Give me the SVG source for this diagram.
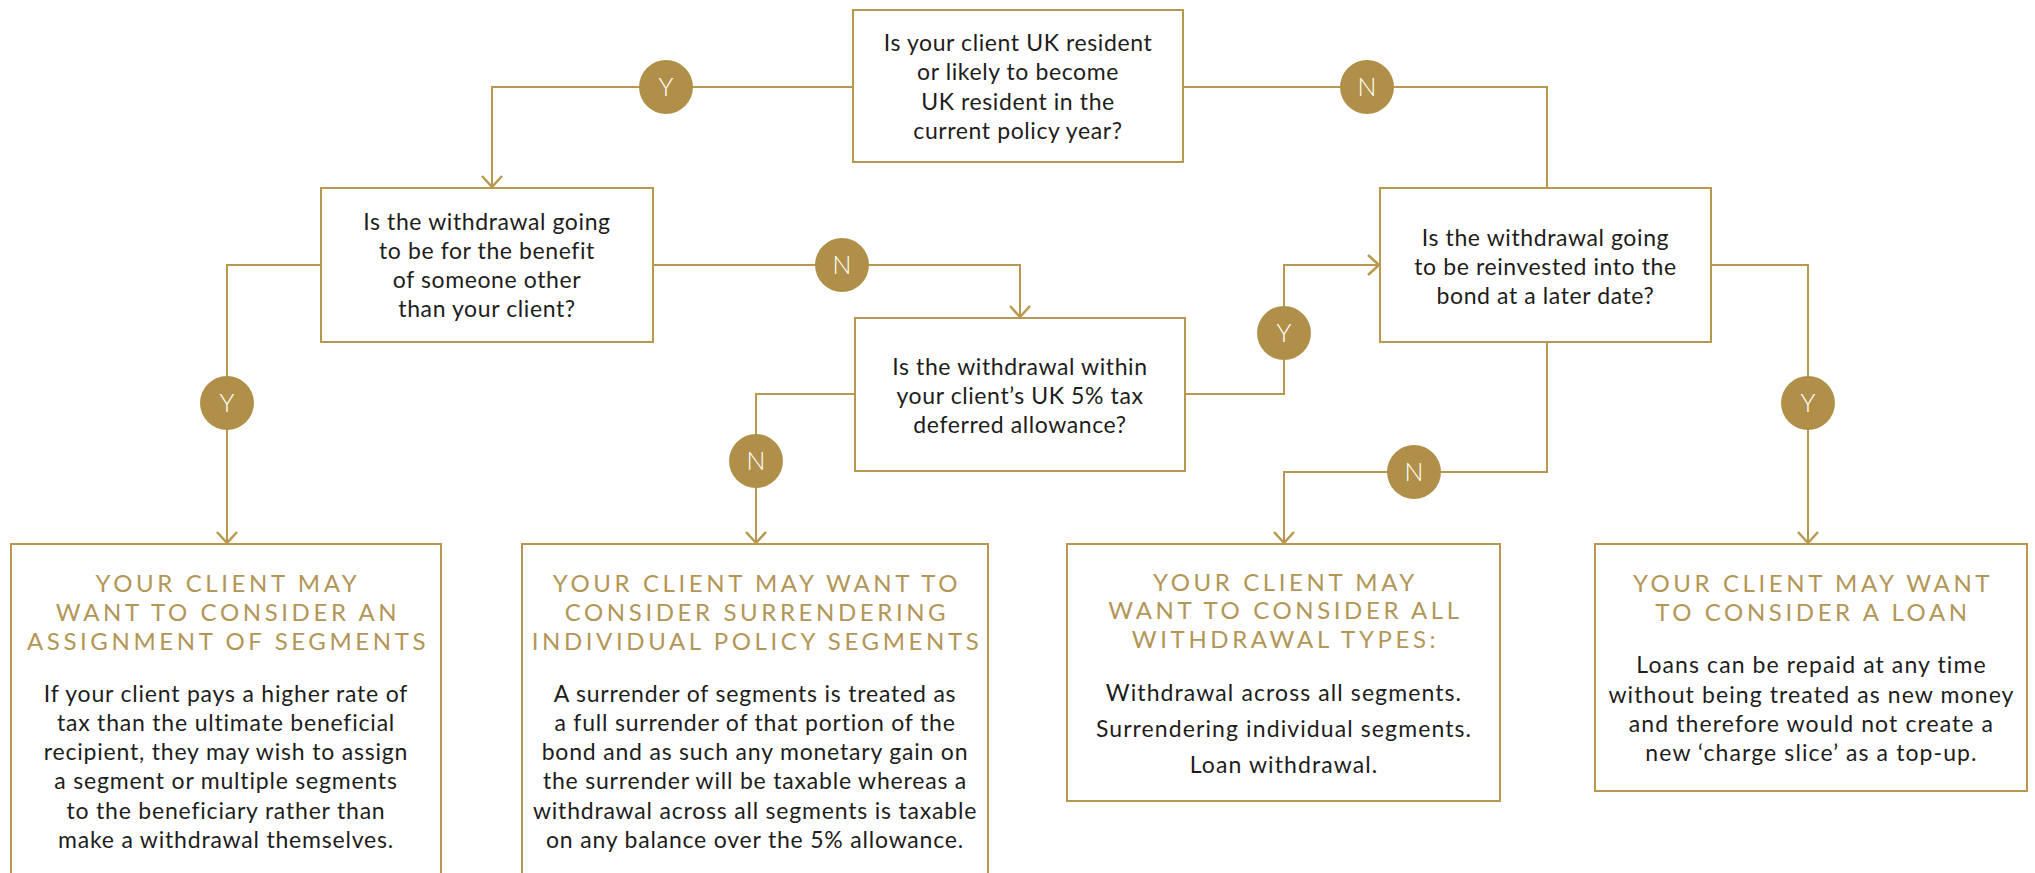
<svg xmlns="http://www.w3.org/2000/svg" width="2035" height="873" viewBox="0 0 2035 873">
<style>
.box{fill:#fff;stroke:#b8984f;stroke-width:2}
.ln{fill:none;stroke:#b8984f;stroke-width:2}
.q{font-family:Lato,"Open Sans",sans-serif;font-size:23px;fill:#1d1d1b;text-anchor:middle;letter-spacing:0.6px}
.h{font-family:Lato,"Open Sans",sans-serif;font-size:24px;fill:#b39656;text-anchor:middle;letter-spacing:3.6px}
.b{font-family:Lato,"Open Sans",sans-serif;font-size:23px;fill:#1d1d1b;text-anchor:middle;letter-spacing:0.8px}
.b2{font-family:Lato,"Open Sans",sans-serif;font-size:23px;fill:#1d1d1b;text-anchor:middle;letter-spacing:1.1px}
.dot{fill:#b09048}
.yn{font-family:Lato,"Open Sans",sans-serif;font-size:25px;font-weight:300;fill:#fff;text-anchor:middle}
</style>
<defs>
<marker id="arr" markerUnits="userSpaceOnUse" viewBox="-14 -13 16 26" markerWidth="16" markerHeight="26" refX="0" refY="0" orient="auto">
<path d="M-11,-10 L0,0 L-11,10" fill="none" stroke="#b8984f" stroke-width="2.5"/>
</marker>
</defs>
<rect width="2035" height="873" fill="#fff"/>
<g id="connectors">
<path class="ln" d="M853,87 H492 V187" marker-end="url(#arr)"/>
<path class="ln" d="M1183,87 H1547 V188"/>
<path class="ln" d="M321,265 H227 V543" marker-end="url(#arr)"/>
<path class="ln" d="M653,265 H1020 V317" marker-end="url(#arr)"/>
<path class="ln" d="M855,394 H756 V543" marker-end="url(#arr)"/>
<path class="ln" d="M1185,394 H1284 V265 H1379" marker-end="url(#arr)"/>
<path class="ln" d="M1547,342 V472 H1284 V543" marker-end="url(#arr)"/>
<path class="ln" d="M1711,265 H1808 V543" marker-end="url(#arr)"/>
<g id="lbl-y1"><circle class="dot" cx="666" cy="87" r="27"/><text class="yn" x="666" y="96">Y</text></g>
<g id="lbl-n1"><circle class="dot" cx="1367" cy="87" r="27"/><text class="yn" x="1367" y="96">N</text></g>
<g id="lbl-y2"><circle class="dot" cx="227" cy="403" r="27"/><text class="yn" x="227" y="412">Y</text></g>
<g id="lbl-n2"><circle class="dot" cx="842" cy="265" r="27"/><text class="yn" x="842" y="274">N</text></g>
<g id="lbl-n3"><circle class="dot" cx="756" cy="461" r="27"/><text class="yn" x="756" y="470">N</text></g>
<g id="lbl-y3"><circle class="dot" cx="1284" cy="333" r="27"/><text class="yn" x="1284" y="342">Y</text></g>
<g id="lbl-n4"><circle class="dot" cx="1414" cy="472" r="27"/><text class="yn" x="1414" y="481">N</text></g>
<g id="lbl-y4"><circle class="dot" cx="1808" cy="403" r="27"/><text class="yn" x="1808" y="412">Y</text></g>
</g>
<g id="q-resident">
<rect class="box" x="853" y="10" width="330" height="152"/>
<text class="q" x="1018" y="51">Is your client UK resident</text>
<text class="q" x="1018" y="80">or likely to become</text>
<text class="q" x="1018" y="110">UK resident in the</text>
<text class="q" x="1018" y="139">current policy year?</text>
</g>
<g id="q-benefit">
<rect class="box" x="321" y="188" width="332" height="154"/>
<text class="q" x="487" y="230">Is the withdrawal going</text>
<text class="q" x="487" y="259">to be for the benefit</text>
<text class="q" x="487" y="288">of someone other</text>
<text class="q" x="487" y="317">than your client?</text>
</g>
<g id="q-allowance">
<rect class="box" x="855" y="318" width="330" height="153"/>
<text class="q" x="1020" y="375">Is the withdrawal within</text>
<text class="q" x="1020" y="404">your client’s UK 5% tax</text>
<text class="q" x="1020" y="433">deferred allowance?</text>
</g>
<g id="q-reinvest">
<rect class="box" x="1380" y="188" width="331" height="154"/>
<text class="q" x="1545.5" y="246">Is the withdrawal going</text>
<text class="q" x="1545.5" y="275">to be reinvested into the</text>
<text class="q" x="1545.5" y="304">bond at a later date?</text>
</g>
<g id="r-assignment">
<rect class="box" x="11" y="544" width="430" height="340"/>
<text class="h" x="228" y="592">YOUR CLIENT MAY</text>
<text class="h" x="228" y="621">WANT TO CONSIDER AN</text>
<text class="h" x="228" y="650">ASSIGNMENT OF SEGMENTS</text>
<text class="b" x="226" y="702">If your client pays a higher rate of</text>
<text class="b" x="226" y="731">tax than the ultimate beneficial</text>
<text class="b" x="226" y="760">recipient, they may wish to assign</text>
<text class="b" x="226" y="789">a segment or multiple segments</text>
<text class="b" x="226" y="819">to the beneficiary rather than</text>
<text class="b" x="226" y="848">make a withdrawal themselves.</text>
</g>
<g id="r-surrender">
<rect class="box" x="522" y="544" width="466" height="340"/>
<text class="h" x="757" y="592">YOUR CLIENT MAY WANT TO</text>
<text class="h" x="757" y="621">CONSIDER SURRENDERING</text>
<text class="h" x="757" y="650">INDIVIDUAL POLICY SEGMENTS</text>
<text class="b" x="755" y="702">A surrender of segments is treated as</text>
<text class="b" x="755" y="731">a full surrender of that portion of the</text>
<text class="b" x="755" y="760">bond and as such any monetary gain on</text>
<text class="b" x="755" y="789">the surrender will be taxable whereas a</text>
<text class="b" x="755" y="819">withdrawal across all segments is taxable</text>
<text class="b" x="755" y="848">on any balance over the 5% allowance.</text>
</g>
<g id="r-all-types">
<rect class="box" x="1067" y="544" width="433" height="257"/>
<text class="h" x="1285.5" y="591">YOUR CLIENT MAY</text>
<text class="h" x="1285.5" y="619">WANT TO CONSIDER ALL</text>
<text class="h" x="1285.5" y="648">WITHDRAWAL TYPES:</text>
<text class="b2" x="1284" y="701">Withdrawal across all segments.</text>
<text class="b2" x="1284" y="737">Surrendering individual segments.</text>
<text class="b2" x="1284" y="773">Loan withdrawal.</text>
</g>
<g id="r-loan">
<rect class="box" x="1595" y="544" width="432" height="247"/>
<text class="h" x="1813" y="592">YOUR CLIENT MAY WANT</text>
<text class="h" x="1813" y="621">TO CONSIDER A LOAN</text>
<text class="b2" x="1811.5" y="673">Loans can be repaid at any time</text>
<text class="b2" x="1811.5" y="703">without being treated as new money</text>
<text class="b2" x="1811.5" y="732">and therefore would not create a</text>
<text class="b2" x="1811.5" y="761">new ‘charge slice’ as a top-up.</text>
</g>
</svg>
